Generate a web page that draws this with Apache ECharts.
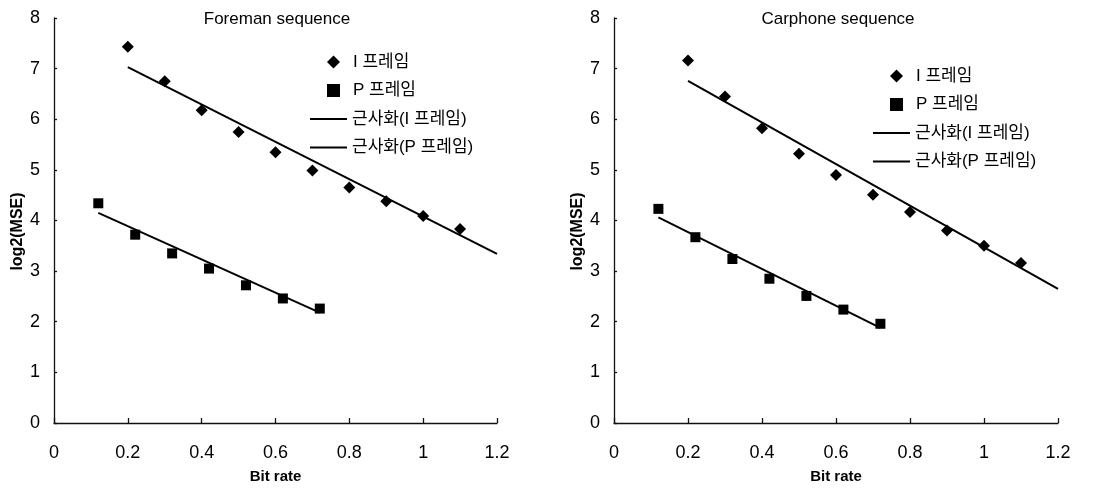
<!DOCTYPE html>
<html>
<head>
<meta charset="utf-8">
<script src="https://cdn.jsdelivr.net/npm/echarts@6/dist/echarts.min.js"></script>
<style>
  html, body { margin: 0; padding: 0; background: #fff; }
  #chart { width: 1115px; height: 489px; }
</style>
</head>
<body>
<div id="chart"></div>
<script>
// Bit rate vs log2(MSE) for two test sequences
const titles = ['Foreman sequence', 'Carphone sequence'];
const xTicks = [0, 0.2, 0.4, 0.6, 0.8, 1, 1.2];

const iRates = [0.2, 0.3, 0.4, 0.5, 0.6, 0.7, 0.8, 0.9, 1.0, 1.1];
const pRates = [0.12, 0.22, 0.32, 0.42, 0.52, 0.62, 0.72];

const foremanI = [7.43, 6.75, 6.18, 5.75, 5.35, 4.99, 4.65, 4.38, 4.09, 3.83];
const foremanP = [4.34, 3.72, 3.35, 3.05, 2.72, 2.46, 2.26];
const foremanFitI = [[0.2, 7.03], [1.2, 3.34]];
const foremanFitP = [[0.12, 4.15], [0.72, 2.18]];

const carphoneI = [7.16, 6.45, 5.82, 5.32, 4.90, 4.51, 4.17, 3.80, 3.50, 3.16];
const carphoneP = [4.23, 3.67, 3.24, 2.85, 2.51, 2.24, 1.96];
const carphoneFitI = [[0.2, 6.76], [1.2, 2.65]];
const carphoneFitP = [[0.12, 4.06], [0.72, 1.88]];

const nameI = 'I 프레임';
const nameP = 'P 프레임';
const nameFitI = '근사화(I 프레임)';
const nameFitP = '근사화(P 프레임)';

const FONT = '"Liberation Sans", Arial, "Noto Sans CJK KR", sans-serif';
const zip = (xs, ys) => xs.map((x, i) => [x, ys[i]]);

const grids = [
  { left: 54, top: 18, width: 443, height: 406 },
  { left: 614, top: 18, width: 444, height: 406 }
];

function xAxis(gi) {
  return {
    gridIndex: gi, type: 'value', min: 0, max: 1.2, interval: 0.2,
    name: 'Bit rate', nameLocation: 'middle', nameGap: 46,
    nameTextStyle: { fontFamily: FONT, fontSize: 15, fontWeight: 'bold', color: '#000' },
    axisLine: { lineStyle: { color: '#111', width: 1.3 } },
    axisTick: { inside: true, length: 5, lineStyle: { color: '#111', width: 1.3 } },
    axisLabel: { fontFamily: FONT, fontSize: 18, color: '#000', margin: 21,
      formatter: v => String(parseFloat(v.toFixed(1))) },
    splitLine: { show: false }
  };
}
function yAxis(gi) {
  return {
    gridIndex: gi, type: 'value', min: 0, max: 8, interval: 1,
    name: 'log2(MSE)', nameLocation: 'middle', nameGap: 28,
    nameTextStyle: { fontFamily: FONT, fontSize: 16, fontWeight: 'bold', color: '#000', padding: [0, 22, 0, 0] },
    axisLine: { show: true, lineStyle: { color: '#111', width: 1.3 } },
    axisTick: { show: true, inside: true, length: 3, lineStyle: { color: '#111', width: 1.3 } },
    axisLabel: { fontFamily: FONT, fontSize: 18, color: '#000', margin: 14 },
    splitLine: { show: false }
  };
}

function scatter(name, data, gi, symbol) {
  return {
    type: 'scatter', name, data, xAxisIndex: gi, yAxisIndex: gi,
    symbol, symbolSize: symbol === 'diamond' ? 12 : 10,
    itemStyle: { color: '#000', opacity: 1 }, z: 3
  };
}
function fit(name, data, gi) {
  return {
    type: 'line', name, data, xAxisIndex: gi, yAxisIndex: gi,
    symbol: 'none', lineStyle: { color: '#000', width: 2 }, itemStyle: { color: '#000' }, z: 2
  };
}

const legendText = { fontFamily: FONT, fontSize: 17, color: '#000', lineHeight: 18 };
function legends(left, top) {
  return [
    {
      orient: 'vertical', left: left - 1, top: top, itemWidth: 13, itemHeight: 13, itemGap: 10.5,
      textStyle: Object.assign({ padding: [0, 0, 0, 8] }, legendText),
      data: [{ name: nameI, icon: 'diamond' }, { name: nameP, icon: 'path://M2,2 L11,2 L11,11 L2,11 Z' }],
      selectedMode: false
    },
    {
      orient: 'vertical', left: left - 18, top: top + 57, itemWidth: 37, itemHeight: 2, itemGap: 10.5,
      textStyle: legendText,
      data: [{ name: nameFitI, icon: 'rect' }, { name: nameFitP, icon: 'rect' }],
      selectedMode: false
    }
  ];
}

const option = {
  animation: false,
  backgroundColor: '#fff',
  title: [
    { text: titles[0], left: 272, top: 6, textAlign: 'center',
      textStyle: { fontFamily: FONT, fontSize: 17, fontWeight: 'normal', color: '#000' } },
    { text: titles[1], left: 833, top: 6, textAlign: 'center',
      textStyle: { fontFamily: FONT, fontSize: 17, fontWeight: 'normal', color: '#000' } }
  ],
  legend: legends(323, 48).concat(legends(886, 62)),
  grid: grids,
  xAxis: [xAxis(0), xAxis(1)],
  yAxis: [yAxis(0), yAxis(1)],
  series: [
    scatter(nameI, zip(iRates, foremanI), 0, 'diamond'),
    scatter(nameP, zip(pRates, foremanP), 0, 'rect'),
    fit(nameFitI, foremanFitI, 0),
    fit(nameFitP, foremanFitP, 0),
    scatter(nameI, zip(iRates, carphoneI), 1, 'diamond'),
    scatter(nameP, zip(pRates, carphoneP), 1, 'rect'),
    fit(nameFitI, carphoneFitI, 1),
    fit(nameFitP, carphoneFitP, 1)
  ]
};

const chart = echarts.init(document.getElementById('chart'), null, { renderer: 'canvas' });
chart.setOption(option);
</script>
</body>
</html>
